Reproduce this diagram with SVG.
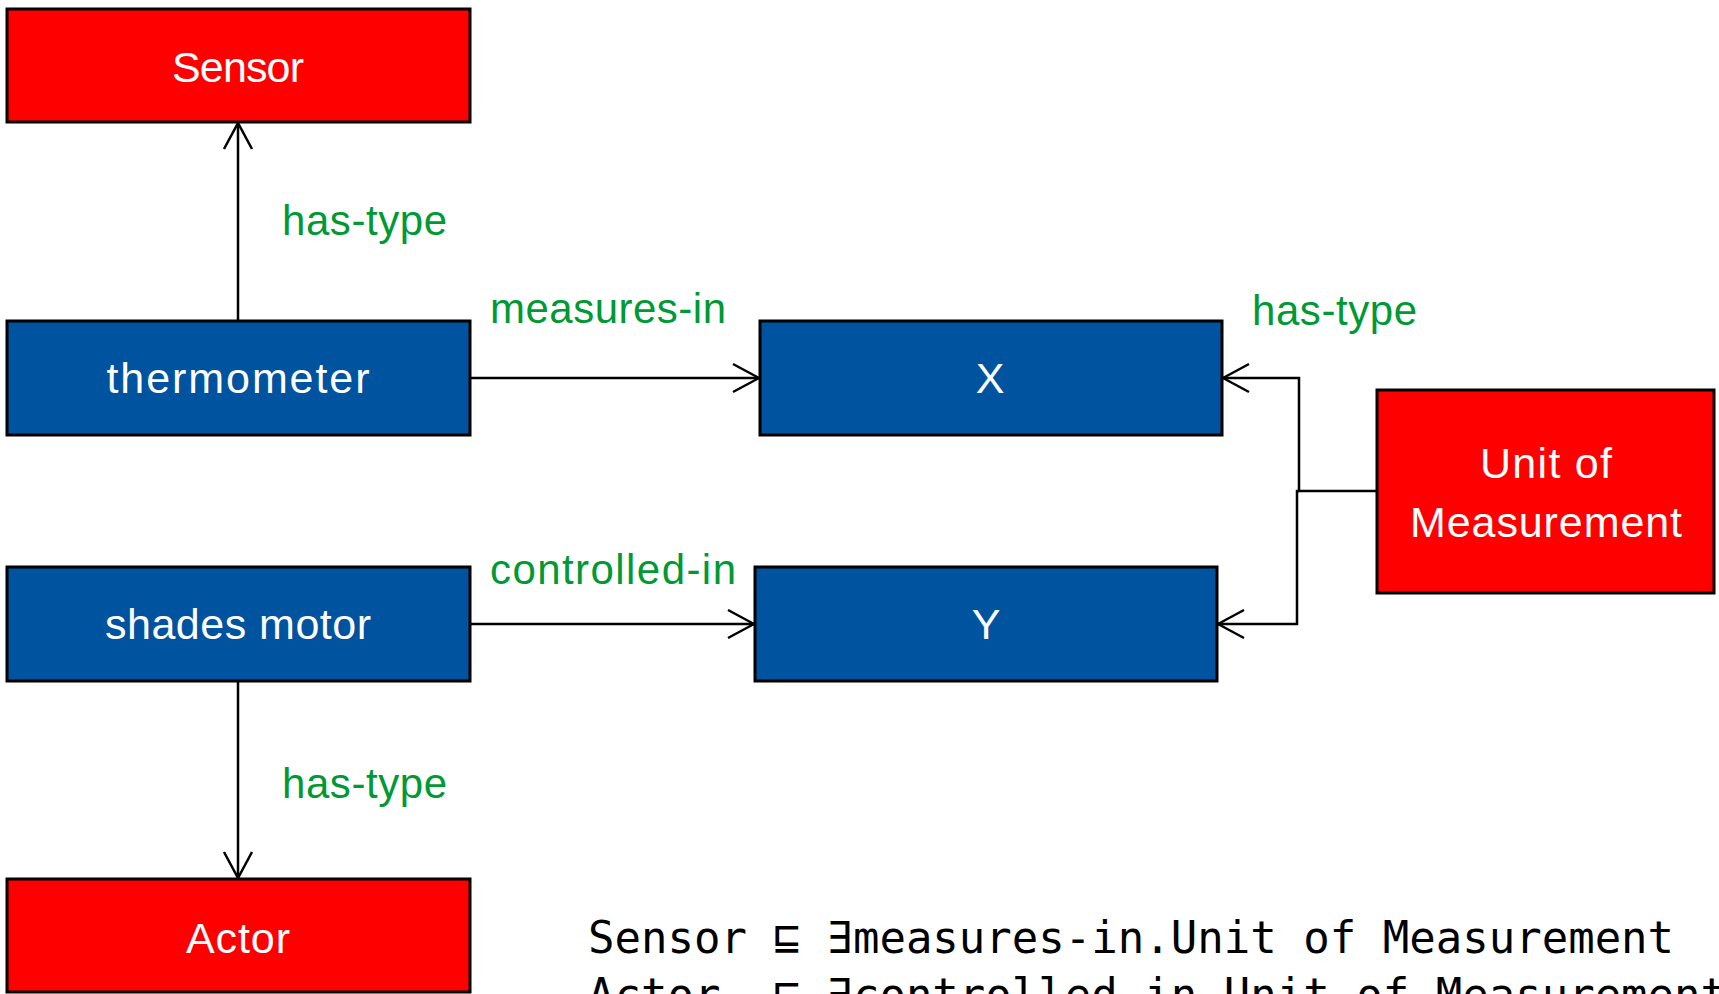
<svg xmlns="http://www.w3.org/2000/svg" width="1719" height="994" viewBox="0 0 1719 994">
  <style>
    .red { fill: #FF0000; stroke: #000; stroke-width: 3; }
    .blue { fill: #00539F; stroke: #000; stroke-width: 3; }
    .lbl { font-family: "Liberation Sans", Arial, sans-serif; font-size: 43px; fill: #fff; text-anchor: middle; }
    .edge { font-family: "Liberation Sans", Arial, sans-serif; font-size: 42px; fill: #009933; }
    .conn { fill: none; stroke: #000; stroke-width: 2.5; }
    .axiom { font-family: "DejaVu Sans Mono", "Liberation Mono", monospace; font-size: 44px; fill: #000; white-space: pre; }
  </style>
  <defs>
    <marker id="open" viewBox="0 0 30 32" refX="28" refY="16" markerWidth="30" markerHeight="32" markerUnits="userSpaceOnUse" orient="auto">
      <path d="M2,2 L28,16 L2,30" fill="none" stroke="#000" stroke-width="2.5"/>
    </marker>
  </defs>

  <!-- connectors -->
  <g id="connectors">
    <path class="conn" d="M238,321 V123" marker-end="url(#open)"/>
    <path class="conn" d="M470,378 H759" marker-end="url(#open)"/>
    <path class="conn" d="M470,624 H754" marker-end="url(#open)"/>
    <path class="conn" d="M238,681 V878" marker-end="url(#open)"/>
    <path class="conn" d="M1377,491 H1299 V378 H1223" marker-end="url(#open)"/>
    <path class="conn" d="M1299,491 H1297 V624 H1218" marker-end="url(#open)"/>
  </g>

  <!-- edge labels -->
  <g id="edge-labels">
    <text class="edge" x="282" y="235" textLength="165">has-type</text>
    <text class="edge" x="490" y="323" textLength="236">measures-in</text>
    <text class="edge" x="1252" y="325" textLength="165">has-type</text>
    <text class="edge" x="490" y="584" textLength="246">controlled-in</text>
    <text class="edge" x="282" y="798" textLength="165">has-type</text>
  </g>

  <g id="sensor">
    <rect class="red" x="7" y="9" width="463" height="113"/>
    <text class="lbl" x="238" y="82" textLength="132">Sensor</text>
  </g>
  <g id="thermometer">
    <rect class="blue" x="7" y="321" width="463" height="114"/>
    <text class="lbl" x="238" y="393" textLength="263">thermometer</text>
  </g>
  <g id="x">
    <rect class="blue" x="760" y="321" width="462" height="114"/>
    <text class="lbl" x="990" y="393">X</text>
  </g>
  <g id="shades-motor">
    <rect class="blue" x="7" y="567" width="463" height="114"/>
    <text class="lbl" x="238" y="639" textLength="266">shades motor</text>
  </g>
  <g id="y">
    <rect class="blue" x="755" y="567" width="462" height="114"/>
    <text class="lbl" x="986" y="639">Y</text>
  </g>
  <g id="unit-of-measurement">
    <rect class="red" x="1377" y="390" width="337" height="203"/>
    <text class="lbl" x="1546" y="478" textLength="132">Unit of</text>
    <text class="lbl" x="1546" y="537" textLength="272">Measurement</text>
  </g>
  <g id="actor">
    <rect class="red" x="7" y="879" width="463" height="113"/>
    <text class="lbl" x="238" y="953" textLength="104">Actor</text>
  </g>

  <!-- axioms -->
  <g id="axioms">
    <text class="axiom" x="588" y="953">Sensor ⊑ ∃measures-in.Unit of Measurement</text>
    <text class="axiom" x="588" y="1010">Actor  ⊑ ∃controlled-in.Unit of Measurement</text>
  </g>
</svg>
